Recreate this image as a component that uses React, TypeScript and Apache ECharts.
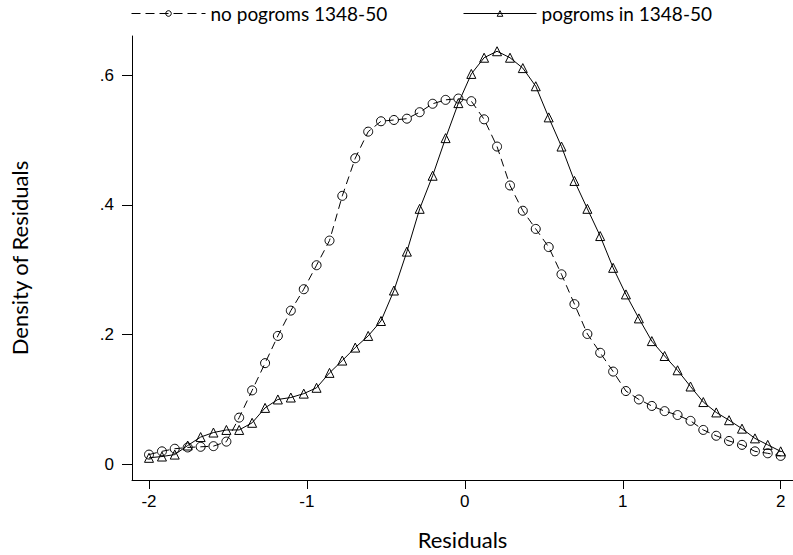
import React, { useEffect, useRef } from "react";
import * as echarts from "echarts";

const xPoints = [
  -2.0, -1.918, -1.837, -1.755, -1.673, -1.592, -1.51, -1.429, -1.347, -1.265,
  -1.184, -1.102, -1.02, -0.939, -0.857, -0.776, -0.694, -0.612, -0.531, -0.449,
  -0.367, -0.286, -0.204, -0.122, -0.041, 0.041, 0.122, 0.204, 0.286, 0.367,
  0.449, 0.531, 0.612, 0.694, 0.776, 0.857, 0.939, 1.02, 1.102, 1.184,
  1.265, 1.347, 1.429, 1.51, 1.592, 1.673, 1.755, 1.837, 1.918, 2.0,
];

const noPogroms = [
  0.015, 0.02, 0.024, 0.026, 0.027, 0.028, 0.035, 0.072, 0.114, 0.156,
  0.198, 0.237, 0.27, 0.307, 0.345, 0.414, 0.472, 0.513, 0.529, 0.531,
  0.533, 0.543, 0.556, 0.562, 0.564, 0.56, 0.532, 0.49, 0.43, 0.391,
  0.363, 0.335, 0.293, 0.247, 0.201, 0.172, 0.143, 0.113, 0.1, 0.09,
  0.082, 0.076, 0.067, 0.053, 0.044, 0.036, 0.03, 0.02, 0.017, 0.013,
];

const pogroms = [
  0.01, 0.012, 0.015, 0.029, 0.042, 0.049, 0.053, 0.053, 0.064, 0.087,
  0.1, 0.103, 0.109, 0.118, 0.141, 0.16, 0.18, 0.198, 0.221, 0.268,
  0.328, 0.394, 0.445, 0.503, 0.557, 0.602, 0.627, 0.637, 0.627, 0.611,
  0.583, 0.535, 0.49, 0.437, 0.394, 0.352, 0.303, 0.262, 0.225, 0.19,
  0.167, 0.145, 0.12, 0.096, 0.08, 0.068, 0.055, 0.04, 0.03, 0.02,
];

const xTicks = [-2, -1, 0, 1, 2];
const yTicks = [0, 0.2, 0.4, 0.6];

const seriesNames = ["no pogroms 1348-50", "pogroms in 1348-50"];

const TITLE_FONT = "Lato, 'Open Sans', sans-serif";
const TICK_FONT = "'Liberation Sans', Arial, sans-serif";

export default function App() {
  const ref = useRef<HTMLDivElement>(null);

  useEffect(() => {
    if (!ref.current) return;
    const chart = echarts.init(ref.current, null, { renderer: "svg" });
    const pair = (ys: number[]) => xPoints.map((x, i) => [x, ys[i]]);
    const legendText = {
      fontFamily: TITLE_FONT,
      fontSize: 19,
      color: "#000",
    };
    const legendItemStyle = { color: "rgba(0,0,0,0)", borderColor: "#000", borderWidth: 1 };
    chart.setOption({
      animation: false,
      backgroundColor: "#fff",
      grid: { left: 132, right: 0, top: 36, bottom: 74 },
      legend: [
        {
          data: [seriesNames[0]],
          left: 131,
          top: 4,
          padding: 0,
          itemWidth: 74,
          itemHeight: 7,
          itemGap: 3,
          textStyle: legendText,
          itemStyle: legendItemStyle,
          lineStyle: { width: 1, type: [9, 5], color: "#000" },
        },
        {
          data: [seriesNames[1]],
          left: 463,
          top: 4,
          padding: 0,
          itemWidth: 73,
          itemHeight: 7,
          itemGap: 3,
          textStyle: legendText,
          itemStyle: legendItemStyle,
          lineStyle: { width: 1, type: "solid", color: "#000" },
        },
      ],
      xAxis: {
        type: "value",
        min: -2.1077,
        max: 2.078,
        name: "Residuals",
        nameLocation: "middle",
        nameGap: 48,
        nameTextStyle: { fontFamily: TITLE_FONT, fontSize: 22, color: "#000" },
        axisLine: { onZero: false, lineStyle: { color: "#000", width: 1 } },
        axisTick: { show: true, length: 9, inside: false, customValues: xTicks, lineStyle: { color: "#000" } },
        axisLabel: {
          customValues: xTicks,
          formatter: (v: number) => String(v),
          margin: 13,
          fontFamily: TICK_FONT,
          fontSize: 17,
          color: "#000",
        },
        splitLine: { show: false },
      },
      yAxis: {
        type: "value",
        min: -0.0242,
        max: 0.6605,
        name: "Density of Residuals",
        nameLocation: "middle",
        nameGap: 102,
        nameTextStyle: { fontFamily: TITLE_FONT, fontSize: 22, color: "#000" },
        axisLine: { show: true, onZero: false, lineStyle: { color: "#000", width: 1 } },
        axisTick: { show: true, length: 10, inside: false, customValues: yTicks, lineStyle: { color: "#000" } },
        axisLabel: {
          customValues: yTicks,
          formatter: (v: number) => (v === 0 ? "0" : String(Math.round(v * 10) / 10).replace(/^0\./, ".")),
          margin: 18,
          fontFamily: TICK_FONT,
          fontSize: 17,
          color: "#000",
        },
        splitLine: { show: false },
      },
      series: [
        {
          name: seriesNames[1],
          type: "line",
          data: pair(pogroms),
          symbol: "triangle",
          symbolSize: 9,
          showAllSymbol: true,
          lineStyle: { color: "#000", width: 1, type: "solid" },
          itemStyle: { color: "rgba(0,0,0,0)", borderColor: "#000", borderWidth: 1 },
          emphasis: { disabled: true },
        },
        {
          name: seriesNames[0],
          type: "line",
          data: pair(noPogroms),
          symbol: "circle",
          symbolSize: 9,
          showAllSymbol: true,
          lineStyle: { color: "#000", width: 1, type: [8, 5] },
          itemStyle: { color: "rgba(0,0,0,0)", borderColor: "#000", borderWidth: 1 },
          emphasis: { disabled: true },
        },
      ],
    });
    return () => chart.dispose();
  }, []);

  return <div ref={ref} style={{ width: 793, height: 555, position: "absolute", left: 0, top: 0 }} />;
}
